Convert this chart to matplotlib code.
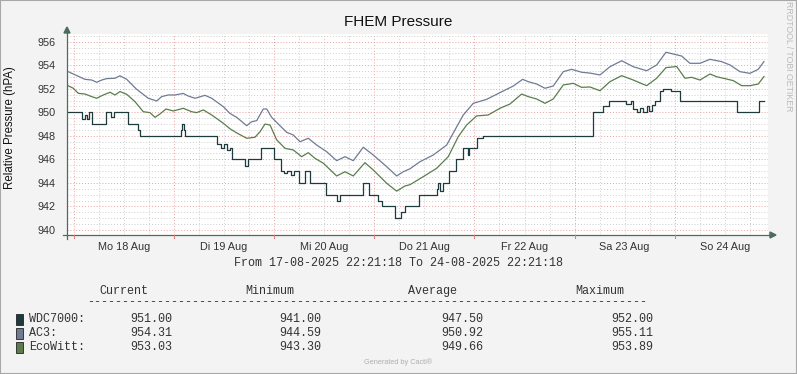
import matplotlib
matplotlib.use('Agg')
import matplotlib.pyplot as plt
from matplotlib.patches import Rectangle
from matplotlib.ticker import FixedLocator, MultipleLocator, FuncFormatter

# hours since 17-08-2025 22:21:18
ac3_h = [0, 1.51, 4.31, 5.92, 7.12, 8.32, 9.51, 11.5, 12.7, 14.31, 16.7, 19.48, 21.5, 22.69,
         24.28, 25.88, 27.87, 29.07, 30.67, 33.07, 34.68, 37.45, 39.06, 40.67, 43.06, 44.26,
         45.46, 47.04, 47.86, 49.05, 51.04, 52.65, 54.23, 55.84, 57.82, 59.84, 62.23, 64.63,
         66.62, 68.61, 71.0, 73.4, 76.61, 79.01, 80.59, 82.2, 84.59, 87.78, 90.99, 92.98,
         94.97, 97.36, 100.57, 103.76, 106.95, 109.2, 110.54, 112.56, 114.55, 116.53, 118.93,
         120.94, 123.34, 125.33, 127.73, 130.12, 132.93, 135.71, 138.92, 141.32, 143.54,
         145.29, 147.3, 149.29, 151.69, 154.09, 156.89, 158.88, 161.28, 163.67, 165.66, 167.03]
ac3_v = [953.5, 953.25, 952.8, 952.74, 952.55, 952.74, 952.86, 952.89, 953.1, 952.8, 951.95,
         951.19, 950.96, 951.33, 951.47, 951.47, 951.6, 951.38, 951.19, 951.44, 951.19, 950.48,
         949.9, 949.57, 948.86, 949.2, 949.29, 950.28, 950.28, 949.57, 948.86, 948.3, 948.07,
         947.5, 947.79, 947.22, 946.65, 945.89, 946.23, 945.89, 947.03, 946.37, 945.38, 944.59,
         944.95, 945.2, 945.8, 946.37, 947.22, 948.5, 949.77, 950.76, 951.1, 951.67, 952.23,
         952.8, 952.6, 952.4, 952.04, 952.23, 953.45, 953.65, 953.4, 953.33, 953.17, 953.87,
         954.38, 953.87, 953.53, 954.02, 955.1, 954.95, 954.78, 954.16, 954.16, 954.5, 954.3,
         954.02, 953.45, 953.31, 953.65, 954.31]

eco_h = [0, 1.51, 2.71, 4.31, 5.92, 7.12, 8.7, 10.3, 11.5, 12.7, 14.31, 16.3, 18.28, 19.89,
         21.09, 22.29, 23.73, 25.48, 27.87, 29.87, 31.07, 32.67, 34.68, 37.45, 39.06, 40.67,
         43.06, 45.06, 46.26, 47.46, 48.66, 50.26, 52.25, 54.23, 56.24, 57.82, 59.43, 61.43,
         64.63, 66.62, 68.61, 71.4, 73.4, 76.61, 79.01, 81.0, 82.2, 85.38, 88.59, 91.37, 93.77,
         95.78, 98.17, 100.95, 103.76, 106.15, 108.96, 110.54, 112.56, 114.55, 116.53, 118.93,
         121.33, 123.34, 125.33, 127.73, 130.12, 132.93, 135.71, 138.92, 141.32, 143.54,
         146.11, 148.1, 149.7, 151.69, 154.09, 155.69, 157.29, 159.68, 161.68, 163.67, 165.66,
         167.03]
eco_v = [952.3, 952.04, 951.61, 951.55, 951.33, 951.19, 951.47, 951.7, 951.47, 951.76, 951.53,
         950.9, 950.05, 949.97, 949.57, 949.86, 950.28, 950.11, 950.34, 950.05, 949.97, 950.2,
         949.77, 949.07, 948.6, 948.25, 947.79, 947.88, 948.35, 949.0, 948.92, 947.65, 946.94,
         946.8, 946.23, 946.57, 946.09, 945.67, 944.59, 944.95, 944.59, 945.72, 945.1, 943.97,
         943.3, 943.74, 943.85, 944.53, 945.24, 946.23, 947.93, 948.92, 949.69, 949.77, 950.34,
         950.7, 951.55, 951.33, 951.13, 950.76, 951.13, 952.32, 952.46, 952.12, 952.15, 951.83,
         952.6, 953.11, 952.74, 952.26, 952.89, 953.79, 953.89, 952.89, 952.97, 952.74, 953.25,
         953.02, 952.89, 952.69, 952.26, 952.26, 952.4, 953.03]

wdc_h = [0, 3.5, 4.2, 4.7, 5.3, 6.1, 9.4, 10.5, 11.2, 14.7, 17.1, 17.5, 27.3, 27.6, 28.0, 28.3,
         36.0, 36.8, 37.6, 38.4, 39.0, 39.6, 42.6, 43.3, 46.6, 49.6, 51.4, 52.0, 52.8, 53.6,
         54.4, 55.5, 57.0, 58.2, 62.1, 64.6, 65.4, 71.0, 72.3, 74.5, 75.4, 78.6, 80.0, 81.0,
         84.4, 88.6, 89.0, 89.4, 90.0, 91.6, 93.2, 95.0, 96.0, 96.4, 98.3, 99.6, 126.0, 128.4,
         130.0, 134.0, 135.1, 135.7, 136.5, 137.3, 138.1, 138.9, 139.5, 140.1, 140.9, 142.1,
         142.8, 144.7, 147.0, 160.6, 165.9, 167.03]
wdc_v = [950, 949.4, 949.8, 949.4, 950, 949, 950, 949.6, 950, 949, 948.5, 948, 948.5, 949,
         948.5, 948, 947.3, 947.0, 947.3, 946.8, 947, 946, 945.4, 946, 947, 946, 945, 944.8,
         945, 944.7, 945, 944, 945, 944, 943, 942.5, 943, 944, 943, 942.5, 942, 941, 941.5, 942,
         943, 943.5, 944, 943.3, 944, 945, 946, 947, 946.4, 947, 947.8, 948, 950, 950.5, 951,
         950.7, 951, 950.3, 950.0, 950.4, 950.0, 950.5, 950.1, 950.6, 951, 951.8, 952, 951.8,
         951, 950, 951, 951]

day_labels = ['Mo 18 Aug', 'Di 19 Aug', 'Mi 20 Aug', 'Do 21 Aug', 'Fr 22 Aug', 'Sa 23 Aug', 'So 24 Aug']
names = ['WDC7000:', 'AC3:', 'EcoWitt:']
colors = ['#1d3a3c', '#6f7b94', '#5b7d4c']
cur = ['951.00', '954.31', '953.03']
mins = ['941.00', '944.59', '943.30']
avgs = ['947.50', '950.92', '949.66']
maxs = ['952.00', '955.11', '953.89']

W, H = 797, 374
first_midnight = 1 + 38 / 60 + 42 / 3600

fig = plt.figure(figsize=(W / 100, H / 100), dpi=100, facecolor='#f3f3f3')
ax = fig.add_axes([67 / W, 1 - 235 / H, (768 - 67) / W, (235 - 34) / H])
ax.set_facecolor('white')

ax.plot(ac3_h, ac3_v, color=colors[1], lw=0.9)
ax.plot(eco_h, eco_v, color=colors[2], lw=0.9)
ax.plot(wdc_h, wdc_v, color=colors[0], lw=0.9, drawstyle='steps-post')

ax.set_xlim(0, 168)
ax.set_ylim(939.575, 956.65)

majors = [first_midnight + 24 * k for k in range(7)]
minors = [first_midnight + 6 * k for k in range(28) if first_midnight + 6 * k < 168]
ax.xaxis.set_major_locator(FixedLocator(majors))
ax.xaxis.set_minor_locator(FixedLocator(minors))
ax.xaxis.set_major_formatter(FuncFormatter(lambda v, p: ''))
noon = {round(first_midnight + 12 + 24 * k, 3): lab for k, lab in enumerate(day_labels)}
ax.xaxis.set_minor_formatter(FuncFormatter(lambda v, p: noon.get(round(v, 3), '')))
ax.yaxis.set_major_locator(MultipleLocator(2))
ax.yaxis.set_minor_locator(MultipleLocator(0.5))

ax.grid(which='major', color='#eba0a0', linestyle=(0, (1, 2)), lw=0.7)
ax.grid(which='minor', color='#cfcfcf', linestyle=(0, (1, 2)), lw=0.7)
ax.set_axisbelow(True)

for s in ax.spines.values():
    s.set_visible(False)
ax.tick_params(axis='both', which='both', length=0, labelcolor='#333333', labelsize=7.8)
ax.tick_params(axis='y', pad=8)
ax.tick_params(axis='x', which='minor', pad=5)
for lab in ax.get_xticklabels(minor=True) + ax.get_yticklabels():
    lab.set_fontfamily('Liberation Sans')

# axis arrows
ax_col = '#4d6b5e'
fig.add_artist(plt.Line2D([63 / W, 770 / W], [1 - 235 / H, 1 - 235 / H], color=ax_col, lw=0.9))
fig.add_artist(plt.Line2D([67 / W, 67 / W], [1 - 239 / H, 1 - 32 / H], color=ax_col, lw=0.9))
fig.patches.append(plt.Polygon([[770 / W, 1 - 232 / H], [776 / W, 1 - 235 / H], [770 / W, 1 - 238 / H]],
                               closed=True, color=ax_col, transform=fig.transFigure))
fig.patches.append(plt.Polygon([[64 / W, 1 - 33 / H], [67 / W, 1 - 27 / H], [70 / W, 1 - 33 / H]],
                               closed=True, color=ax_col, transform=fig.transFigure))
for m in majors:
    xp = 67 + m / 168 * 701
    fig.add_artist(plt.Line2D([xp / W, xp / W], [1 - 235 / H, 1 - 238 / H], color='#e08080', lw=0.8))

fig.text(398 / W, 1 - 22 / H, 'FHEM Pressure', ha='center', va='center', fontsize=11,
         family='Liberation Sans', color='#111111')
fig.text(10 / W, 1 - 128 / H, 'Relative Pressure (hPA)', ha='center', va='center', rotation=90,
         fontsize=8.3, family='Liberation Sans', color='#111111')
fig.text(789 / W, 1 - 56 / H, 'RRDTOOL / TOBI OETIKER', ha='center', va='center', rotation=270,
         fontsize=6.3, family='Liberation Sans', color='#bbbbbb')

mono = dict(family='Liberation Mono', fontsize=8.5, color='#333333', va='center')
fig.text(398 / W, 1 - 263 / H, 'From 17-08-2025 22:21:18 To 24-08-2025 22:21:18', ha='center', **mono)
for xc, head in zip([124, 270, 432, 600], ['Current', 'Minimum', 'Average', 'Maximum']):
    fig.text(xc / W, 1 - 291 / H, head, ha='center', **mono)
fig.text(87 / W, 1 - 302 / H, '-' * 80, ha='left', **mono)
for i in range(3):
    yy = 1 - (319 + 14 * i) / H
    fig.patches.append(Rectangle((16 / W, yy - 5.5 / H), 7 / W, 11 / H, facecolor=colors[i],
                                 edgecolor='#222222', lw=0.6, transform=fig.transFigure))
    fig.text(29 / W, yy, names[i], ha='left', **mono)
    for xr, col in zip([172, 321, 483, 653], [cur, mins, avgs, maxs]):
        fig.text(xr / W, yy, col[i], ha='right', **mono)

fig.text(398 / W, 1 - 362 / H, 'Generated by Cacti\u00ae', ha='center', va='center', fontsize=5.3,
         family='Liberation Sans', color='#b0b0b0')
fig.patches.append(Rectangle((0, 0), 1, 1, fill=False, edgecolor='#a8a8a8', lw=1.5,
                             transform=fig.transFigure))

fig.savefig('out.png', dpi=100, facecolor=fig.get_facecolor())
